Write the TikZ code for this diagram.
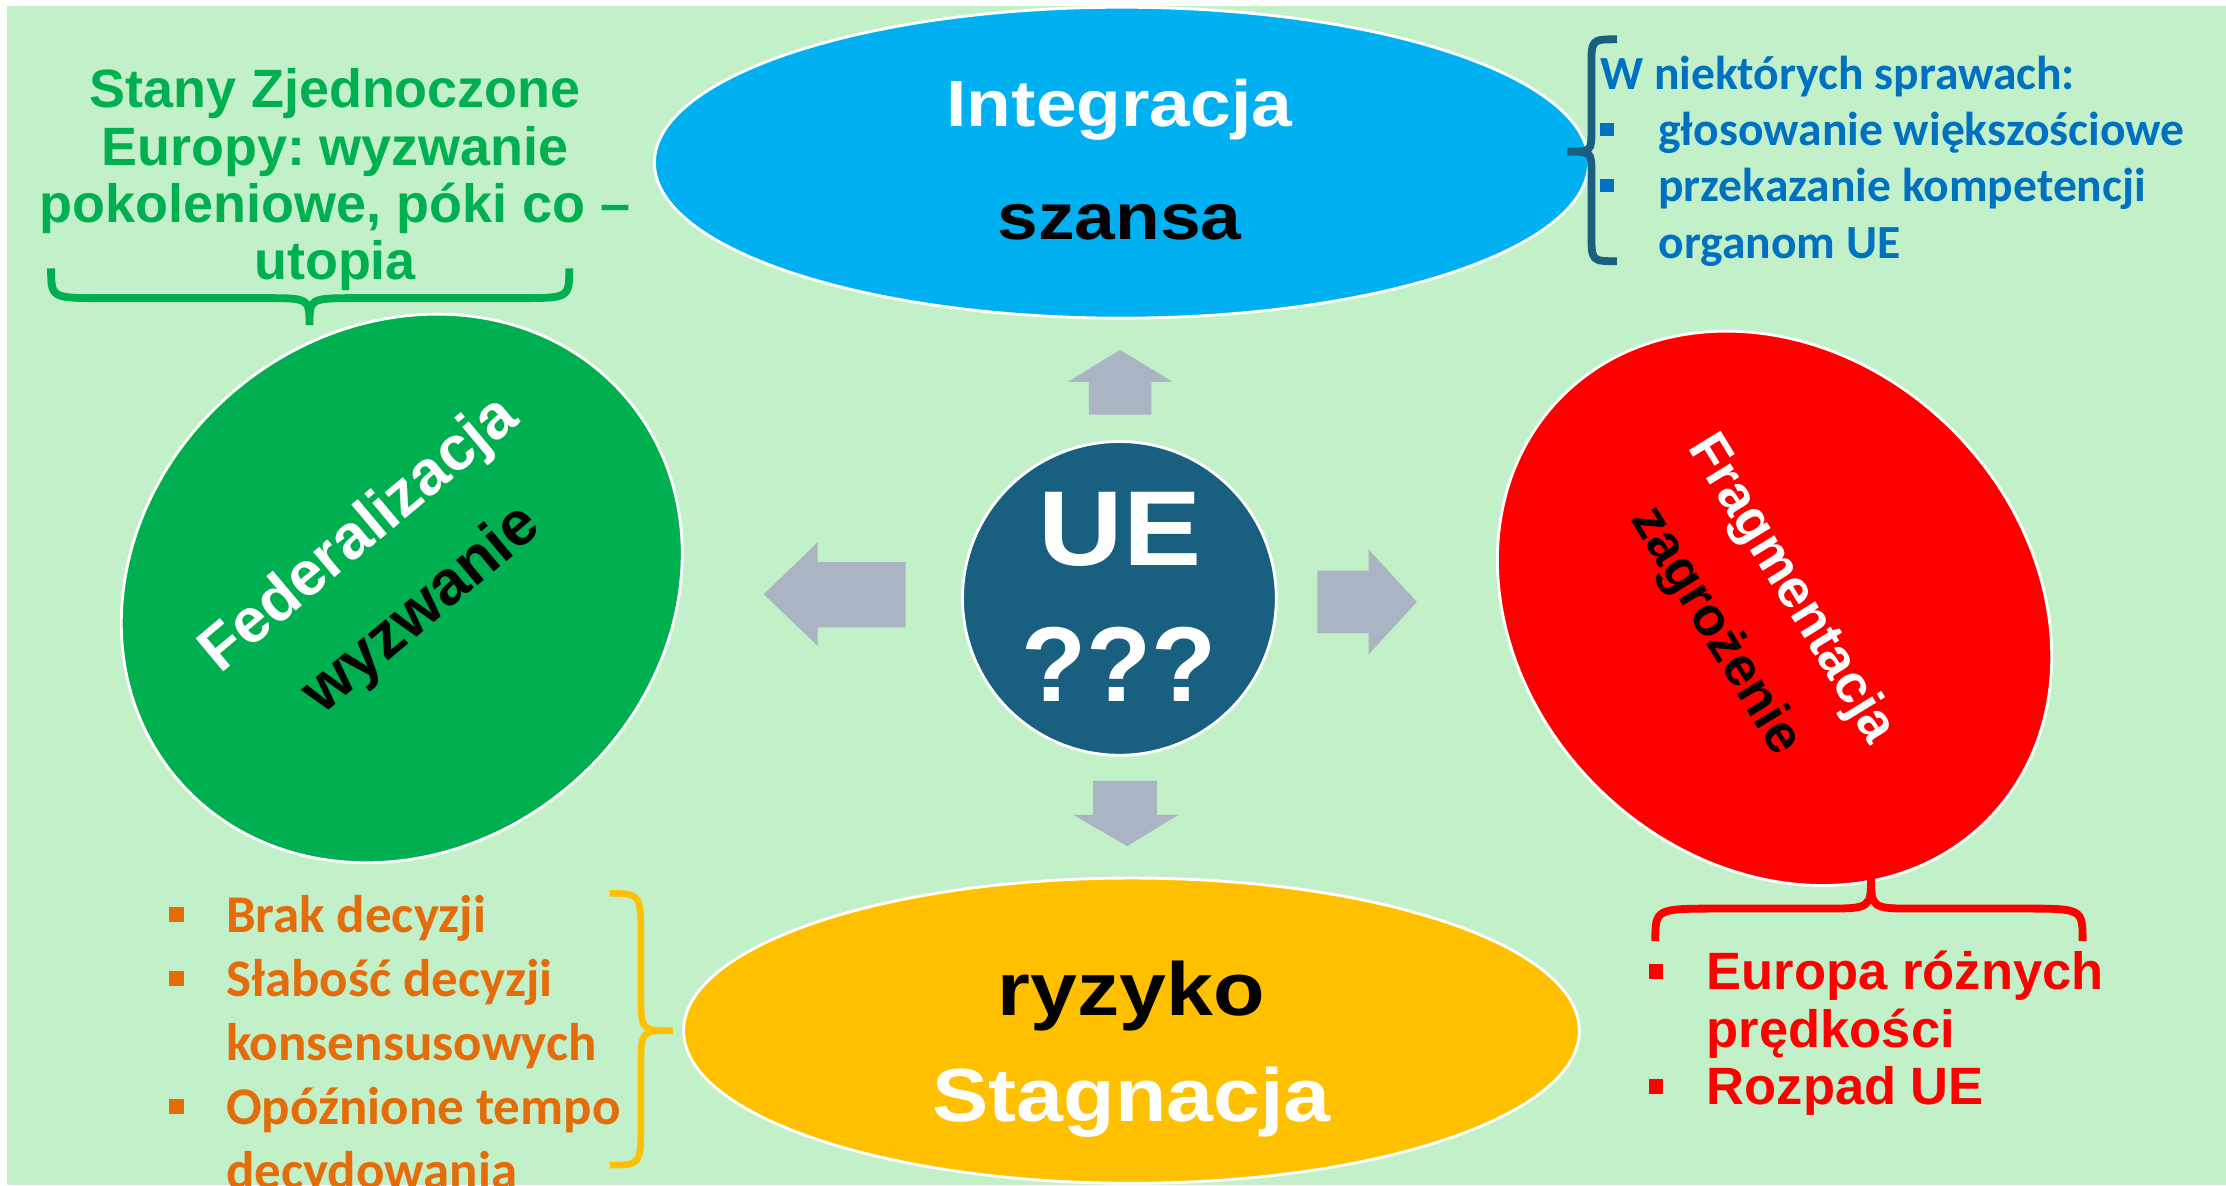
\documentclass[tikz,border=0pt]{standalone}
\usepackage{fontspec}
\usepackage{graphicx}
\usetikzlibrary{shapes.geometric}
\newfontfamily\fa{Liberation Sans}
\newfontfamily\fc{Carlito}
\definecolor{bgg}{RGB}{194,240,200}
\definecolor{eblue}{RGB}{0,176,240}
\definecolor{egreen}{RGB}{0,176,80}
\definecolor{ered}{RGB}{255,0,0}
\definecolor{eyel}{RGB}{255,192,0}
\definecolor{ueblue}{RGB}{24,95,128}
\definecolor{arrg}{RGB}{170,180,194}
\definecolor{tblue}{RGB}{0,112,192}
\definecolor{torange}{RGB}{228,108,10}
\newcommand\bsq{\rule[0.2em]{0.28em}{0.28em}}
\newcommand\xs[1]{\scalebox{1.12}[1]{#1}}
\frenchspacing
\begin{document}
\begin{tikzpicture}[x=1pt,y=1pt,
  oval/.style={ellipse, draw=white, line width=2pt, inner sep=0pt},
  lbl/.style={anchor=base, inner sep=0pt},
  blockarrow/.style={fill=arrg},
  brace/.style={line width=5.5pt},
  lst/.style={anchor=base west, inner sep=0pt}]
\useasboundingbox (0,0) rectangle (1568,-835);
\fill[white] (0,0) rectangle (1568,-835);
\fill[bgg] (5,-4) rectangle (1568,-835);

% ellipses and circle
\node[oval, fill=eblue, minimum width=658, minimum height=219] (integ) at (790,-114.6) {};
\node[oval, fill=egreen, rotate=40, minimum width=415, minimum height=365] (fed) at (283,-414.5) {};
\node[oval, fill=ered, rotate=-45, minimum width=423, minimum height=355] (frag) at (1250,-428.5) {};
\node[oval, fill=eyel, minimum width=631, minimum height=215] (stag) at (797,-726) {};
\node[circle, draw=white, line width=2pt, fill=ueblue, minimum size=221, inner sep=0pt] (ue) at (788.5,-421.5) {};

% labels in shapes
\node[lbl, text=white, font=\fa\bfseries\fontsize{46}{55}\selectfont] (tInt) at (788.5,-89.4) {\xs{Integracja}};
\node[lbl, text=black, font=\fa\bfseries\fontsize{46}{55}\selectfont] (tSz) at (788.5,-169) {\xs{szansa}};
\node[lbl, text=black, font=\fa\bfseries\fontsize{53}{60}\selectfont] (tRyz) at (797,-715) {\xs{ryzyko}};
\node[lbl, text=white, font=\fa\bfseries\fontsize{53}{60}\selectfont] (tStag) at (797,-790) {\xs{Stagnacja}};
\node[lbl, text=white, rotate=40, font=\fa\bfseries\fontsize{44}{50}\selectfont] (tFed) at (261,-386) {Federalizacja};
\node[lbl, text=black, rotate=40, font=\fa\bfseries\fontsize{44}{50}\selectfont] (tWyz) at (305,-439) {wyzwanie};
\node[lbl, text=white, rotate=-58.5, font=\fa\bfseries\fontsize{38}{45}\selectfont] (tFrag) at (1253,-420.5) {Fragmentacja};
\node[lbl, text=black, rotate=-58.5, font=\fa\bfseries\fontsize{38}{45}\selectfont] (tZag) at (1200,-450) {zagrożenie};
\node[lbl, text=white, font=\fa\bfseries\fontsize{75}{90}\selectfont] (tUE) at (789,-398.5) {\scalebox{1.1}[1]{UE}};
\node[lbl, text=white, font=\fa\bfseries\fontsize{75}{90}\selectfont] (tQ) at (788.5,-494) {???};

% block arrows
\fill[blockarrow] (767,-292) -- (767,-269) -- (752,-269) -- (789,-246.5) -- (826,-269) -- (811,-269) -- (811,-292) -- cycle;
\fill[blockarrow] (770,-550) -- (815,-550) -- (815,-574) -- (830,-574) -- (794,-596) -- (756,-574) -- (770,-574) -- cycle;
\fill[blockarrow] (638,-396) -- (576,-396) -- (576,-382) -- (538,-418.5) -- (576,-455) -- (576,-442) -- (638,-442) -- cycle;
\fill[blockarrow] (928,-402) -- (964,-402) -- (964,-387) -- (998,-424) -- (964,-461) -- (964,-446) -- (928,-446) -- cycle;

% side texts
\node[lbl, text=egreen, font=\fa\bfseries\fontsize{38}{40.3}\selectfont] (usa) at (236,-76)
  {\begin{tabular}[t]{@{}c@{}}Stany Zjednoczone\\ Europy: wyzwanie\\ pokoleniowe, póki co –\\ utopia\end{tabular}};
\node[lst, text=tblue, font=\fc\bfseries\fontsize{33.5}{39.6}\selectfont] (blist) at (1127,-63)
  {\begin{tabular}[t]{@{}l@{}l@{}}\multicolumn{2}{@{}l@{}}{W niektórych sprawach:}\\
   \makebox[41pt][l]{\bsq} & głosowanie większościowe\\
   \makebox[41pt][l]{\bsq} & przekazanie kompetencji\\
   & organom UE\end{tabular}};
\node[lst, text=torange, font=\fc\bfseries\fontsize{37.3}{45}\selectfont] (olist) at (119,-657)
  {\begin{tabular}[t]{@{}l@{}l@{}}\makebox[40pt][l]{\bsq} & Brak decyzji\\
   \makebox[40pt][l]{\bsq} & Słabość decyzji\\
   & konsensusowych\\
   \makebox[40pt][l]{\bsq} & Opóźnione tempo\\
   & decydowania\end{tabular}};
\node[lst, text=ered, font=\fa\bfseries\fontsize{37}{40.5}\selectfont] (rlist) at (1161,-697)
  {\begin{tabular}[t]{@{}l@{}l@{}}\makebox[41pt][l]{\bsq} & Europa różnych\\
   & prędkości\\
   \makebox[41pt][l]{\bsq} & Rozpad UE\end{tabular}};

% braces
\draw[brace, egreen] (36,-189) .. controls (36,-210) .. (72,-210) -- (185.5,-210) .. controls (218,-210) .. (218,-229)
  .. controls (218,-210) .. (251.5,-210) -- (365,-210) .. controls (401,-210) .. (401,-189);
\draw[brace, ered] (1166,-663) .. controls (1166,-640) .. (1211.5,-640) -- (1284.6,-640) .. controls (1318,-640) .. (1318,-616.4)
  .. controls (1318,-640) .. (1349,-640) -- (1425,-640) .. controls (1467,-640) .. (1467,-663);
\draw[brace, ueblue] (1139,-27.7) .. controls (1121,-27.7) .. (1121,-47) -- (1121,-91.6) .. controls (1121,-106.8) .. (1104,-106.8)
  .. controls (1121,-106.8) .. (1121,-122) -- (1121,-164) .. controls (1121,-184) .. (1139,-184);
\draw[line width=4.6pt, eyel] (429.4,-629.3) .. controls (451.5,-629.3) .. (451.5,-664) -- (451.5,-699.7) .. controls (451.5,-726) .. (474,-726)
  .. controls (451.5,-726) .. (451.5,-751.4) -- (451.5,-789) .. controls (451.5,-820.7) .. (429.4,-820.7);
\end{tikzpicture}
\end{document}
